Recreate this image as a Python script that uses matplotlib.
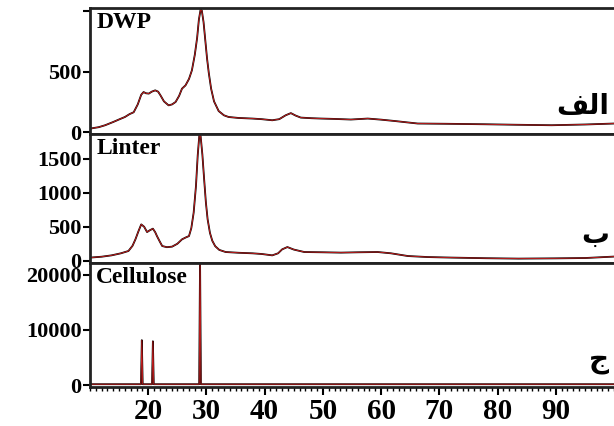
import matplotlib
matplotlib.use('Agg')
import matplotlib.pyplot as plt
from matplotlib.ticker import MultipleLocator

# 2-theta / intensity
dwp_x = [10, 11.5, 12.6, 14.0, 15.2, 16.0, 16.8, 17.5, 18.2, 18.8, 19.2, 19.6, 20.1,
         20.6, 21.2, 21.7, 22.1, 22.7, 23.5, 24.1, 24.7, 25.3, 25.8, 26.4, 27.0,
         27.5, 28.0, 28.4, 28.7, 29.0, 29.2, 29.5, 29.8, 30.1, 30.4, 30.8, 31.3,
         32.1, 33.0, 33.8, 35.5, 37.9, 39.5, 41.3, 42.5, 43.6, 44.5, 45.3, 46.2,
         48.0, 49.7, 52.0, 54.8, 57.7, 60.0, 62.3, 64.0, 66.3, 71.0, 77.8, 83.0,
         89.3, 95.0, 100]
dwp_y = [30, 42, 58, 85, 110, 126, 150, 165, 230, 310, 332, 322, 319,
         335, 346, 335, 305, 255, 222, 230, 250, 300, 360, 387, 440,
         511, 640, 780, 930, 1015, 1005, 910, 760, 610, 490, 360, 255,
         175, 140, 126, 118, 113, 108, 99, 108, 140, 158, 138, 121,
         116, 113, 110, 105, 113, 104, 93, 84, 72, 70, 66, 62,
         58, 64, 72]

linter_x = [10, 12.0, 13.7, 15.3, 16.6, 17.3, 17.8, 18.3, 18.8, 19.3, 19.8, 20.3,
            20.8, 21.2, 21.5, 22.0, 22.4, 23.2, 24.1, 25.0, 25.8, 26.5, 27.0,
            27.4, 27.8, 28.2, 28.5, 28.8, 29.0, 29.3, 29.6, 29.9, 30.2, 30.6,
            31.0, 31.5, 32.2, 33.3, 35.5, 37.9, 39.5, 41.3, 42.3, 43.0, 43.9,
            45.0, 46.8, 50.0, 53.1, 56.0, 59.4, 61.7, 64.6, 68.0, 72.1, 78.0,
            83.6, 90.0, 95.1, 100]
linter_y = [47, 60, 80, 110, 144, 220, 315, 430, 535, 500, 422, 450,
            472, 420, 363, 280, 217, 200, 208, 250, 315, 345, 363,
            480, 706, 1100, 1550, 1870, 1830, 1560, 1200, 860, 610, 410,
            295, 215, 160, 129, 118, 110, 100, 80, 110, 168, 202,
            165, 129, 125, 120, 125, 129, 110, 70, 55, 47, 38,
            32, 36, 41, 62]

cell_x = [10, 18.75, 18.9, 19.05, 20.65, 20.8, 20.95, 28.75, 28.9, 29.05, 100]
cell_y = [150, 150, 8150, 150, 150, 7950, 150, 150, 23000, 150, 150]

names = ['DWP', 'Linter', 'Cellulose']
tags = ['\ufed2\ufedf\u0627', '\u0628', '\u062c']   # الف  ب  ج
xs = [dwp_x, linter_x, cell_x]
ys = [dwp_y, linter_y, cell_y]
ylims = [(-16, 1025), (-30, 1860), (-360, 22200)]
yticks = [[0, 500, 1000], [0, 500, 1000, 1500], [0, 10000, 20000]]
ylabels = [['0', '500', ''], ['0', '500', '1000', '1500'], ['0', '10000', '20000']]
xticks = [20, 30, 40, 50, 60, 70, 80, 90]

serif = 'Liberation Serif'
fig = plt.figure(figsize=(6.14, 4.26), dpi=100)
boxes = [(0.1466, 0.685, 0.8534, 0.296),
         (0.1466, 0.383, 0.8534, 0.302),
         (0.1466, 0.0915, 0.8534, 0.2915)]

for i in range(3):
    ax = fig.add_axes(boxes[i])
    ax.plot(xs[i], ys[i], color='black', lw=1.3)
    ax.plot(xs[i], ys[i], color='#d42020', lw=0.6)
    ax.set_xlim(10, 100)
    ax.set_ylim(*ylims[i])
    ax.set_yticks(yticks[i])
    ax.set_yticklabels(ylabels[i], fontfamily=serif, fontweight='bold', fontsize=16)
    ax.tick_params(axis='y', direction='out', length=5, width=1.5, pad=1)
    ax.spines['right'].set_visible(False)
    for s in ['left', 'top', 'bottom']:
        ax.spines[s].set_linewidth(2)
        ax.spines[s].set_color('#222222')
    ax.text(0.012, 0.97, names[i], transform=ax.transAxes, ha='left', va='top',
            fontfamily=serif, fontweight='bold', fontsize=17)
    ax.text(0.99, 0.22, tags[i], transform=ax.transAxes, ha='right', va='center',
            fontfamily='DejaVu Sans', fontweight='bold', fontsize=20)
    if i < 2:
        ax.set_xticks([])
    else:
        ax.set_xticks(xticks)
        ax.set_xticklabels([str(t) for t in xticks], fontfamily=serif,
                           fontweight='bold', fontsize=21)
        ax.xaxis.set_minor_locator(MultipleLocator(1))
        ax.tick_params(axis='x', which='major', direction='out', length=6, width=1.5, pad=2)
        ax.tick_params(axis='x', which='minor', direction='out', length=3, width=1)

fig.savefig('out.png', dpi=100)
